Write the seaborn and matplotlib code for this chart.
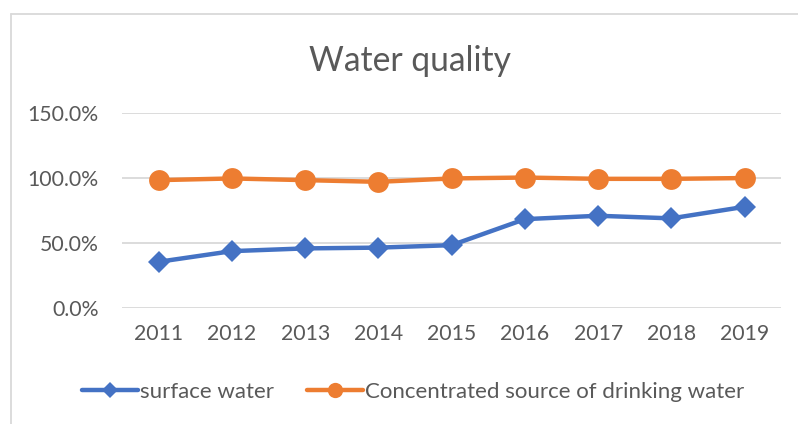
import matplotlib.pyplot as plt
import seaborn as sns
import pandas as pd
from matplotlib.lines import Line2D
from matplotlib.ticker import FuncFormatter

years = ['2011', '2012', '2013', '2014', '2015', '2016', '2017', '2018', '2019']
surface_water = [35.4, 43.6, 45.7, 46.3, 48.2, 68.2, 70.8, 68.8, 77.7]
drinking_water = [98.2, 99.5, 98.2, 96.9, 99.5, 100.2, 99.2, 99.2, 99.8]
series_names = ['surface water', 'Concentrated source of drinking water']

df = pd.DataFrame({
    'Year': years * 2,
    'Value': surface_water + drinking_water,
    'Series': [series_names[0]] * len(years) + [series_names[1]] * len(years),
})

sns.set_theme(style='white')
plt.rcParams['font.family'] = ['Lato', 'DejaVu Sans']
text_color = '#595959'

fig = plt.figure(figsize=(7.98, 4.24), dpi=100)
ax = fig.add_axes([0.153, 0.274, 0.826, 0.460])

palette = {series_names[0]: '#4472C4', series_names[1]: '#ED7D31'}
sns.lineplot(data=df, x='Year', y='Value', hue='Series', style='Series',
             markers={series_names[0]: 'D', series_names[1]: 'o'},
             dashes=False, palette=palette, linewidth=3.2,
             markersize=15, markeredgewidth=0, sort=False, ax=ax, legend=False)
# diamonds a bit smaller than circles
for ln in ax.get_lines():
    if ln.get_marker() == 'D':
        ln.set_markersize(11.5)

ax.set_ylim(0, 150)
ax.set_xlim(-0.5, len(years) - 0.5)
ax.set_yticks([0, 50, 100, 150])
ax.yaxis.set_major_formatter(FuncFormatter(lambda v, p: f'{v:.1f}%'))
ax.grid(axis='y', color='#D9D9D9', linewidth=1.3)
ax.set_axisbelow(True)
for s in ax.spines.values():
    s.set_visible(False)
ax.tick_params(axis='both', length=0, labelsize=15.3, labelcolor=text_color)
ax.tick_params(axis='y', pad=17)
ax.tick_params(axis='x', pad=12)
ax.set_xlabel('')
ax.set_ylabel('')

fig.text(0.514, 0.857, 'Water quality', ha='center', va='center',
         fontsize=24.2, color=text_color)

handles = [
    Line2D([], [], color='#4472C4', marker='D', markersize=8, linewidth=3.2, markeredgewidth=0),
    Line2D([], [], color='#ED7D31', marker='o', markersize=11, linewidth=3.2, markeredgewidth=0),
]
fig.legend(handles, series_names, loc='center', bbox_to_anchor=(0.518, 0.075),
           ncol=2, frameon=False, fontsize=16, labelcolor=text_color,
           handlelength=2.5, handletextpad=0.1, columnspacing=1.5)

# chart border (left and top visible)
fig.add_artist(Line2D([11 / 798, 11 / 798], [0, 1 - 14 / 424], transform=fig.transFigure,
                      color='#D9D9D9', linewidth=1.3))
fig.add_artist(Line2D([11 / 798, 1], [1 - 14 / 424, 1 - 14 / 424], transform=fig.transFigure,
                      color='#D9D9D9', linewidth=1.3))

fig.savefig('out.png', dpi=100)
